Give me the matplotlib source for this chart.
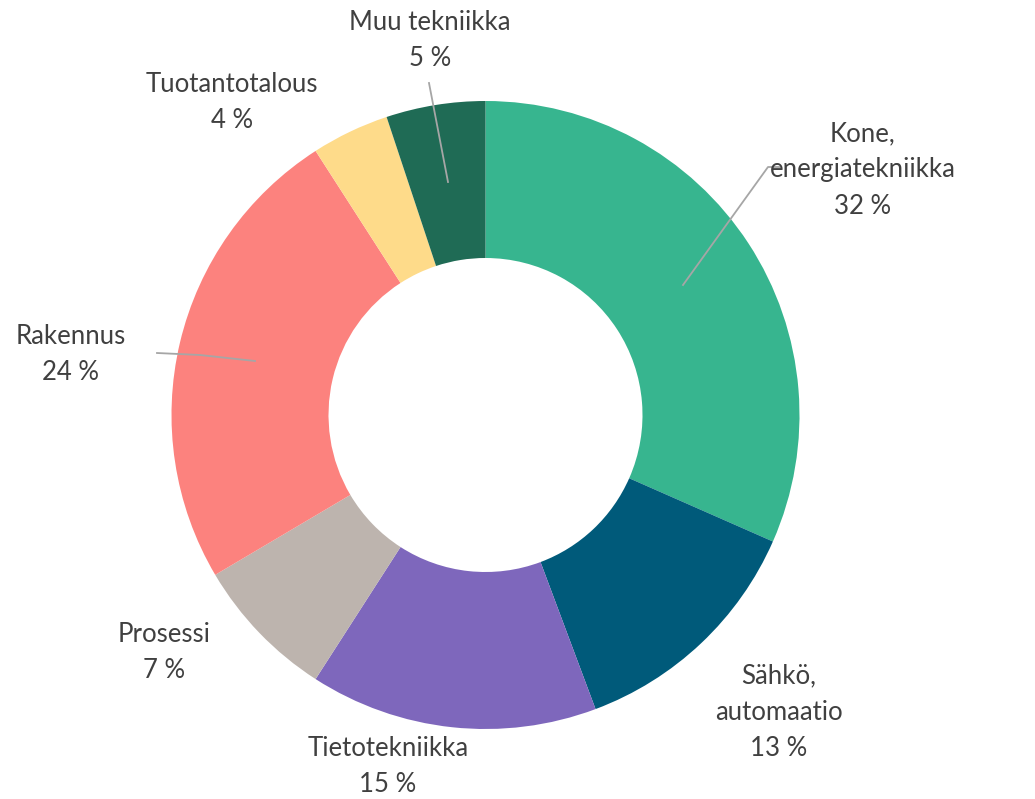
import matplotlib.pyplot as plt

# slices, clockwise from 12 o'clock (shares in %)
labels = ["Kone,\nenergiatekniikka", "Sähkö,\nautomaatio", "Tietotekniikka",
          "Prosessi", "Rakennus", "Tuotantotalous", "Muu tekniikka"]
shares = [31.6, 12.7, 14.8, 7.4, 24.4, 4.0, 5.1]
colors = ["#37B58F", "#005A7A", "#7E67BC", "#BDB4AE", "#FC827E", "#FEDB8A", "#1F6B55"]

# label centre positions in pixels (x, y from top)
label_pos = [(863, 170), (779, 712), (388, 767), (164, 652), (71, 354), (232, 103), (430, 41)]

W, H = 1035, 799
fig = plt.figure(figsize=(W / 100, H / 100), dpi=100)
ax = fig.add_axes([0, 0, 1, 1])

cx, cy, r = 485.5, H - 415, 314
ax.pie(shares, colors=colors, startangle=90, counterclock=False,
       center=(cx, cy), radius=r, wedgeprops=dict(width=r * 0.5, linewidth=0),
       frame=True)
ax.set_xlim(0, W)
ax.set_ylim(0, H)
ax.set_aspect("equal")
ax.axis("off")

for lab, val, (x, y) in zip(labels, shares, label_pos):
    ax.text(x, H - y, f"{lab}\n{round(val)} %", ha="center", va="center",
            fontsize=18.5, family="Lato", color="#404040", linespacing=1.55)

# leader lines
lc = "#A6A6A6"
leaders = [
    [(683, 285), (768, 167), (781, 167)],
    [(157, 353), (200, 355), (255, 361)],
    [(429, 83), (448, 182)],
]
for pts in leaders:
    xs = [p[0] for p in pts]
    ys = [H - p[1] for p in pts]
    ax.plot(xs, ys, color=lc, lw=1.3)

fig.savefig("out.png", dpi=100)
